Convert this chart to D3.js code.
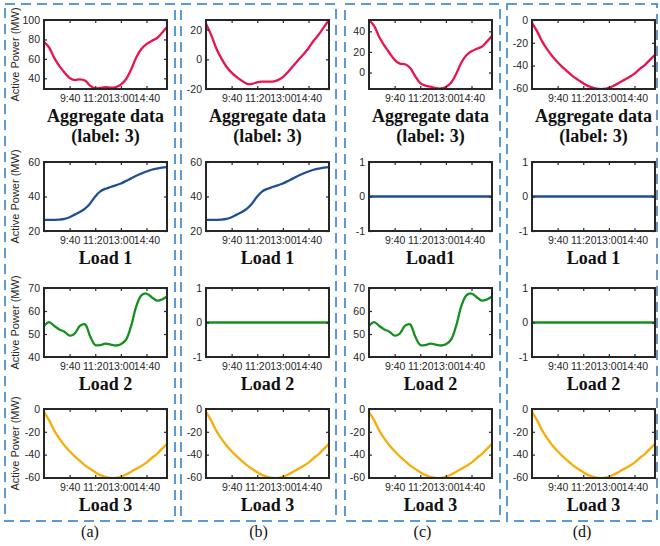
<!DOCTYPE html>
<html>
<head>
<meta charset="utf-8">
<script src="https://cdn.jsdelivr.net/npm/d3@7"></script>
<style>
  body { margin: 0; background: #fff; }
  .tick text { font-family: "Liberation Sans", Arial, sans-serif; font-size: 10.5px; fill: #262626; }
  .tick line { stroke: #262626; stroke-width: 1.2; }
  .serif { font-family: "Liberation Serif", "DejaVu Serif", "Times New Roman", Times, serif; fill: #111; }
</style>
</head>
<body>
<svg id="chart" width="660" height="546"></svg>
<script>
// sample times, 20-minute steps
const times = ["8:00","8:20","8:40","9:00","9:20","9:40","10:00","10:20","10:40","11:00","11:20","11:40",
  "12:00","12:20","12:40","13:00","13:20","13:40","14:00","14:20","14:40","15:00","15:20","15:40","16:00"];

// load profiles (MW)
const load1 = [26.5,26.5,26.5,26.6,27,28,29.5,31,33,36,40,43,44.5,45.5,46.5,47.5,49,50.5,52,53.3,54.5,55.5,56.2,56.7,57];
const load2 = [53.5,55.2,53.5,52,51,49.3,50.2,53.5,54.2,49,45.2,45.2,45.8,45.4,45,45.5,47.5,53.5,62,66.8,67.6,66,64.5,65,66.3];
const load3 = [-2.5,-10,-19,-26,-32,-37,-41.5,-45.5,-49.5,-52.5,-55.5,-58,-59.5,-60.5,-60.5,-59.5,-57.5,-55,-52.5,-50,-47,-43,-39.5,-35,-30.5];

// which loads are on in each case (a)-(d)
const caseNames = ["(a)", "(b)", "(c)", "(d)"];
const activeLoads = [[1,1,1],[1,0,1],[0,1,1],[0,0,1]];
const loadTitles = [["Load 1","Load 1","Load1","Load 1"], ["Load 2","Load 2","Load 2","Load 2"], ["Load 3","Load 3","Load 3","Load 3"]];

const xTickLabels = ["9:40","11:20","13:00","14:40"];
const aggDomains = [[29,100],[-20,26.5],[-16,51],[-60.5,0]];
const aggTicks = [[40,60,80,100],[-20,0,20],[0,20,40],[-60,-40,-20,0]];
const loadDomains = [[20,60],[40,70],[-60.5,0]];
const loadTicks = [[20,40,60],[40,50,60,70],[-60,-40,-20,0]];
const offDomain = [-1,1];
const offTicks = [-1,0,1];

const colors = { agg: "#e8144f", l1: "#1f4e97", l2: "#15901f", l3: "#f5ae0a" };
const loadColors = [colors.l1, colors.l2, colors.l3];

// layout
const colX = [44, 206, 369, 532];
const rowY = [20, 162, 288, 409];
const plotW = 123, plotH = 69;
const boxes = [[5,175],[181,336],[345,500],[507,657]];

const toMin = s => { const [h, m] = s.split(":").map(Number); return h * 60 + m; };
const tMin = times.map(toMin);
const loads = [load1, load2, load3];

const svg = d3.select("#chart");

// dashed frames round each case
boxes.forEach(([x0, x1], i) => {
  svg.append("rect")
    .attr("x", x0).attr("y", 4).attr("width", x1 - x0).attr("height", 517)
    .attr("fill", "none").attr("stroke", "#5b9bd5").attr("stroke-width", 2)
    .attr("stroke-dasharray", "10,6");
  svg.append("text")
    .attr("class", "serif")
    .attr("x", (x0 + x1) / 2).attr("y", 537)
    .attr("text-anchor", "middle")
    .attr("font-size", 16)
    .text(caseNames[i]);
});

let clipId = 0;
function panel(cx, ry, values, color, domain, ticks, titleLines, showYLabel) {
  const x0 = colX[cx], y0 = rowY[ry];
  const g = svg.append("g").attr("transform", `translate(${x0},${y0})`);
  const x = d3.scaleLinear().domain([toMin(times[0]), toMin(times[times.length - 1])]).range([0, plotW]);
  const y = d3.scaleLinear().domain(domain).range([plotH, 0]);
  const xt = xTickLabels.map(toMin);

  const id = "clip" + (clipId++);
  g.append("clipPath").attr("id", id).append("rect")
    .attr("x", -1).attr("y", -1).attr("width", plotW + 2).attr("height", plotH + 2);

  const line = d3.line().x((d, i) => x(tMin[i])).y(d => y(d)).curve(d3.curveCatmullRom);
  g.append("path").datum(values)
    .attr("clip-path", `url(#${id})`)
    .attr("d", line).attr("fill", "none")
    .attr("stroke", color).attr("stroke-width", 2.3);

  const fmt = m => xTickLabels[xt.indexOf(m)];
  g.append("g").attr("transform", `translate(0,${plotH})`)
    .call(d3.axisBottom(x).tickValues(xt).tickSize(-3).tickPadding(6).tickFormat(fmt))
    .call(a => a.select(".domain").remove());
  g.append("g")
    .call(d3.axisTop(x).tickValues(xt).tickSize(-3).tickFormat(""))
    .call(a => a.select(".domain").remove());
  g.append("g")
    .call(d3.axisLeft(y).tickValues(ticks).tickSize(-3).tickPadding(4).tickFormat(d => String(d)))
    .call(a => a.select(".domain").remove());
  g.append("g").attr("transform", `translate(${plotW},0)`)
    .call(d3.axisRight(y).tickValues(ticks).tickSize(-3).tickFormat(""))
    .call(a => a.select(".domain").remove());

  g.append("rect").attr("width", plotW).attr("height", plotH)
    .attr("fill", "none").attr("stroke", "#262626").attr("stroke-width", 2);

  titleLines.forEach((t, k) => {
    g.append("text")
      .attr("class", "serif")
      .attr("x", plotW / 2).attr("y", plotH + 33 + k * 20)
      .attr("text-anchor", "middle")
      .attr("font-weight", "bold").attr("font-size", 18)
      .text(t);
  });

  if (showYLabel) {
    g.append("text")
      .attr("transform", `translate(${15 - x0},${plotH / 2}) rotate(-90)`)
      .attr("text-anchor", "middle").attr("dy", "0.35em")
      .attr("font-family", "'Liberation Sans', Arial, sans-serif")
      .attr("font-size", 11).attr("fill", "#262626")
      .text("Active Power (MW)");
  }
}

activeLoads.forEach((act, c) => {
  const agg = tMin.map((_, i) => loads.reduce((s, l, k) => s + (act[k] ? l[i] : 0), 0));
  panel(c, 0, agg, colors.agg, aggDomains[c], aggTicks[c], ["Aggregate data", "(label: 3)"], c === 0);
  loads.forEach((l, k) => {
    const on = act[k] === 1;
    const vals = on ? l : l.map(() => 0);
    panel(c, k + 1, vals, loadColors[k], on ? loadDomains[k] : offDomain, on ? loadTicks[k] : offTicks, [loadTitles[k][c]], c === 0);
  });
});
</script>
</body>
</html>
